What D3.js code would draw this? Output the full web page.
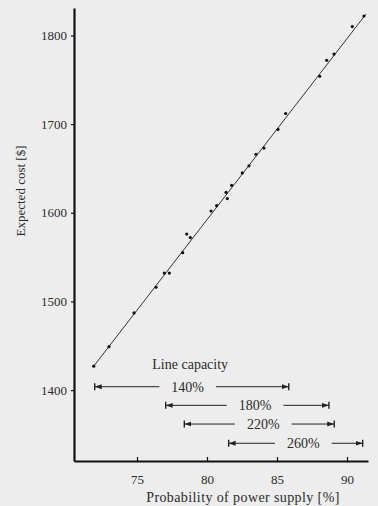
<!DOCTYPE html>
<html>
<head>
<meta charset="utf-8">
<script src="https://cdn.jsdelivr.net/npm/d3@7"></script>
<style>
  body { margin: 0; background: #ededed; }
  svg { display: block; }
  text { font-family: 'Liberation Serif', 'DejaVu Serif', serif; fill: #2b2b2b; }
</style>
</head>
<body>
<div id="chart"></div>
<script>
// probability of power supply [%] vs expected cost [$]
const probX = [71.91, 73.0, 74.79, 76.36, 76.95, 77.31, 78.26, 78.55, 78.81, 80.29, 80.69, 81.36, 81.45,
  81.76, 82.52, 83.0, 83.5, 84.07, 85.07, 85.62, 88.05, 88.55, 89.07, 90.38, 91.21];
const costY = [1427, 1449, 1487, 1516, 1532, 1532, 1555, 1576, 1572, 1602, 1608, 1623, 1616,
  1631, 1645, 1653, 1666, 1673, 1694, 1712, 1754, 1772, 1779, 1810, 1822];

// fitted line end points
const fitX = [71.91, 91.35];
const fitY = [1427, 1824];

// line capacity ranges
const capLabels = ['140%', '180%', '220%', '260%'];
const capFrom = [71.98, 77.05, 78.38, 81.55];
const capTo = [85.84, 88.71, 89.09, 91.12];
const capLevel = [1403.8, 1382.8, 1361.7, 1340];
const capText = [78.62, 83.43, 84.02, 86.88];

const xTicks = [75, 80, 85, 90];
const yTicks = [1400, 1500, 1600, 1700, 1800];

const width = 378, height = 506;
const margin = { left: 74, right: 10, top: 8, bottom: 45 };

const x = d3.scaleLinear()
  .domain([70.5, 91.5])
  .range([margin.left, margin.left + 294]);

const y = d3.scaleLinear()
  .domain([1320, 1831])
  .range([height - margin.bottom, margin.top]);

const svg = d3.select('#chart')
  .append('svg').attr('width', width).attr('height', height);

svg.append('rect').attr('width', width).attr('height', height).attr('fill', '#ededed');

const xAxis = g => g
  .attr('transform', `translate(0,${y(1320)})`)
  .call(d3.axisBottom(x).tickValues(xTicks).tickFormat(d3.format('d'))
    .tickSize(-4).tickPadding(14).tickSizeOuter(0))
  .call(g => g.select('.domain').attr('stroke', '#111').attr('stroke-width', 2.2))
  .call(g => g.selectAll('.tick line').attr('stroke', '#111').attr('stroke-width', 1.2))
  .call(g => g.selectAll('.tick text').attr('font-size', 13).attr('fill', '#2b2b2b')
    .attr('font-family', "'Liberation Serif', serif"));

const yAxis = g => g
  .attr('transform', `translate(${x(70.5)},0)`)
  .call(d3.axisLeft(y).tickValues(yTicks).tickFormat(d3.format('d'))
    .tickSize(3).tickPadding(4).tickSizeOuter(0))
  .call(g => g.select('.domain').attr('stroke', '#111').attr('stroke-width', 2.2))
  .call(g => g.selectAll('.tick line').attr('stroke', '#111').attr('stroke-width', 1.2))
  .call(g => g.selectAll('.tick text').attr('font-size', 13).attr('fill', '#2b2b2b')
    .attr('font-family', "'Liberation Serif', serif"));

svg.append('g').call(xAxis);
svg.append('g').call(yAxis);

// fitted line
const line = d3.line().x(d => x(d[0])).y(d => y(d[1]));
svg.append('path')
  .datum(d3.zip(fitX, fitY))
  .attr('fill', 'none')
  .attr('stroke', '#333')
  .attr('stroke-width', 1)
  .attr('d', line);

// observed points
svg.append('g')
  .selectAll('circle')
  .data(d3.zip(probX, costY))
  .join('circle')
  .attr('cx', d => x(d[0]))
  .attr('cy', d => y(d[1]))
  .attr('r', 1.6)
  .attr('fill', '#111');

// line capacity ranges
svg.append('text')
  .attr('x', x(78.8)).attr('y', y(1424))
  .attr('text-anchor', 'middle')
  .attr('font-size', 14)
  .text('Line capacity');

const defs = svg.append('defs');
defs.append('marker')
  .attr('id', 'head')
  .attr('viewBox', '0 0 10 10')
  .attr('refX', 10).attr('refY', 5)
  .attr('markerWidth', 7).attr('markerHeight', 7)
  .attr('markerUnits', 'userSpaceOnUse')
  .attr('orient', 'auto')
  .append('path').attr('d', 'M0,1.5L10,5L0,8.5Z').attr('fill', '#222');

capLabels.forEach((lab, i) => {
  const cy = y(capLevel[i]);
  const cx = x(capText[i]);
  const t = svg.append('text')
    .attr('x', cx).attr('y', cy + 5)
    .attr('text-anchor', 'middle')
    .attr('font-size', 14)
    .text(lab);
  const half = t.node().getComputedTextLength() / 2 + 12;
  const g = svg.append('g').attr('stroke', '#222').attr('stroke-width', 1);
  g.append('line')
    .attr('x1', cx - half).attr('x2', x(capFrom[i])).attr('y1', cy).attr('y2', cy)
    .attr('marker-end', 'url(#head)');
  g.append('line')
    .attr('x1', cx + half).attr('x2', x(capTo[i])).attr('y1', cy).attr('y2', cy)
    .attr('marker-end', 'url(#head)');
  g.selectAll('.bar')
    .data([capFrom[i], capTo[i]])
    .join('line')
    .attr('x1', d => x(d)).attr('x2', d => x(d))
    .attr('y1', cy - 3.5).attr('y2', cy + 3.5)
    .attr('stroke-width', 1.4);
});

// axis titles
svg.append('text')
  .attr('x', 243).attr('y', 502)
  .attr('text-anchor', 'middle')
  .attr('font-size', 14)
  .attr('letter-spacing', 0.4)
  .text('Probability of power supply [%]');

svg.append('text')
  .attr('transform', `translate(25,191) rotate(-90)`)
  .attr('text-anchor', 'middle')
  .attr('font-size', 13)
  .text('Expected cost [$]');
</script>
</body>
</html>
